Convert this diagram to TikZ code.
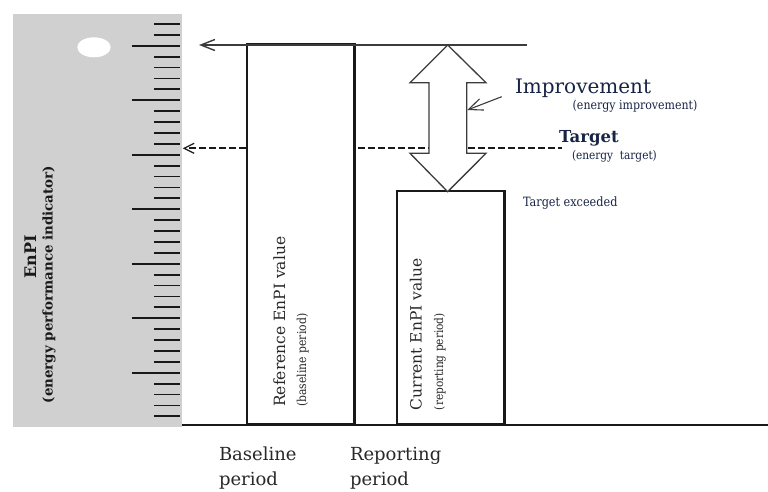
\documentclass[tikz,border=0pt]{standalone}
\usepackage{fontspec}
\setmainfont{DejaVu Serif}
\newfontfamily\narrowserif[FakeStretch=0.88]{DejaVu Serif}
\usetikzlibrary{arrows.meta}
\definecolor{rulergray}{RGB}{208,208,208}
\definecolor{navytxt}{RGB}{24,36,70}
\definecolor{txtgray}{RGB}{40,40,40}
\definecolor{linegray}{RGB}{60,60,60}
\newcommand{\myfs}[1]{\fontsize{#1}{#1}\selectfont}
\begin{document}
\begin{tikzpicture}[x=1pt,y=-1pt,
  txt/.style={inner sep=0pt, outer sep=0pt, text=txtgray},
  navy/.style={inner sep=0pt, outer sep=0pt, text=navytxt},
  tickline/.style={line width=1.8pt, draw=black!90},
  barbox/.style={draw=black!90, line width=2.2pt, inner sep=0pt},
  axisline/.style={draw=black!90, line width=2.2pt},
  openarrow/.style={draw=linegray, line width=1.4pt, -{Straight Barb[length=14pt,width=11pt]}},
  dasharrow/.style={draw=black!90, line width=2pt, dash pattern=on 6.5pt off 3.5pt, -{Straight Barb[length=10pt,width=10pt,line width=1.3pt]}},
  dashline/.style={draw=black!90, line width=2pt, dash pattern=on 6.5pt off 3.5pt},
  bigarrow/.style={draw=linegray, line width=1.3pt, fill=white, line join=miter}]
\useasboundingbox (0,0) rectangle (768,491);
% ruler
\fill[rulergray] (13,14) rectangle (182,427);
\fill[white] (94,47.3) ellipse [x radius=16.7, y radius=10];
\foreach \k in {-2,...,34} {
  \pgfmathsetmacro\yy{45.7+10.9*\k}
  \pgfmathtruncatemacro\m{mod(\k+10,5)}
  \ifnum\m=0 \def\xs{131.7}\else\def\xs{154}\fi
  \draw[tickline] (\xs,\yy) -- (179.5,\yy);
}
\node[txt, text=black!90, rotate=90, anchor=base west] (enpi) at (36,278.3) {\myfs{16}\bfseries EnPI};
\node[txt, text=black!90, rotate=90, anchor=base west] (enpisub) at (52.5,403.3) {\myfs{13.4}\bfseries (energy performance indicator)};
% axis
\coordinate (axL) at (182,425);
\coordinate (axR) at (768,425);
\draw[axisline] (axL) -- (axR);
% boxes
\node[barbox, anchor=south west, minimum width=107.6pt, minimum height=380pt] (refbox) at (245.7,425) {};
\node[barbox, anchor=south west, minimum width=107.6pt, minimum height=232.7pt] (curbox) at (395.7,425) {};
\node[txt, rotate=90, anchor=base west] (reftxt) at (285,406.7) {\myfs{15.5}Reference EnPI value};
\node[txt, rotate=90, anchor=base west] (refsub) at (306,406.7) {\narrowserif\myfs{12.3}(baseline period)};
\node[txt, rotate=90, anchor=base west] (curtxt) at (421.7,410) {\myfs{15.5}Current EnPI value};
\node[txt, rotate=90, anchor=base west] (cursub) at (443,410) {\narrowserif\myfs{12}(reporting period)};
% top arrow
\coordinate (toptip) at (199,45);
\coordinate (topend) at (527,45);
\draw[openarrow] (topend) -- (toptip);
% target dashed lines
\coordinate (dtip) at (182.7,148.3);
\coordinate (dstart) at (358,148.3);
\coordinate (dend) at (561.7,148.3);
\draw[dasharrow] (refbox.south west |- dtip) -- (dtip);
\draw[dashline] (dstart) -- (dend);
% big double arrow
\draw[bigarrow] (447.7,45) -- (486,82.7) -- (466.7,82.7) -- (466.7,153.3) -- (486,153.3)
  -- (447.7,191.7) -- (410,153.3) -- (429,153.3) -- (429,82.7) -- (410,82.7) -- cycle;
% improvement pointer
\coordinate (impfrom) at (501.7,96.7);
\coordinate (impto) at (467.3,110);
\draw[openarrow, line width=1.1pt, -{Straight Barb[length=14pt,width=12pt]}] (impfrom) -- (impto);
% labels
\node[navy, anchor=base west] (imp) at (515,93.3) {\myfs{20}Improvement};
\node[navy, anchor=base west] (impsub) at (572.7,109) {\narrowserif\myfs{12.5}(energy improvement)};
\node[navy, anchor=base west] (tgt) at (559,142) {\myfs{16.5}\bfseries Target};
\node[navy, anchor=base west] (tgtsub) at (572,159) {\narrowserif\myfs{12}(energy\ \ target)};
\node[navy, anchor=base west] (exc) at (523,206) {\narrowserif\myfs{12.8}Target exceeded};
\node[txt, anchor=base west] (base1) at (219,460.7) {\myfs{18}Baseline};
\node[txt, anchor=base west] (base2) at (219,485) {\myfs{18}period};
\node[txt, anchor=base west] (rep1) at (350,460.7) {\myfs{18}Reporting};
\node[txt, anchor=base west] (rep2) at (350,485) {\myfs{18}period};
\end{tikzpicture}
\end{document}
